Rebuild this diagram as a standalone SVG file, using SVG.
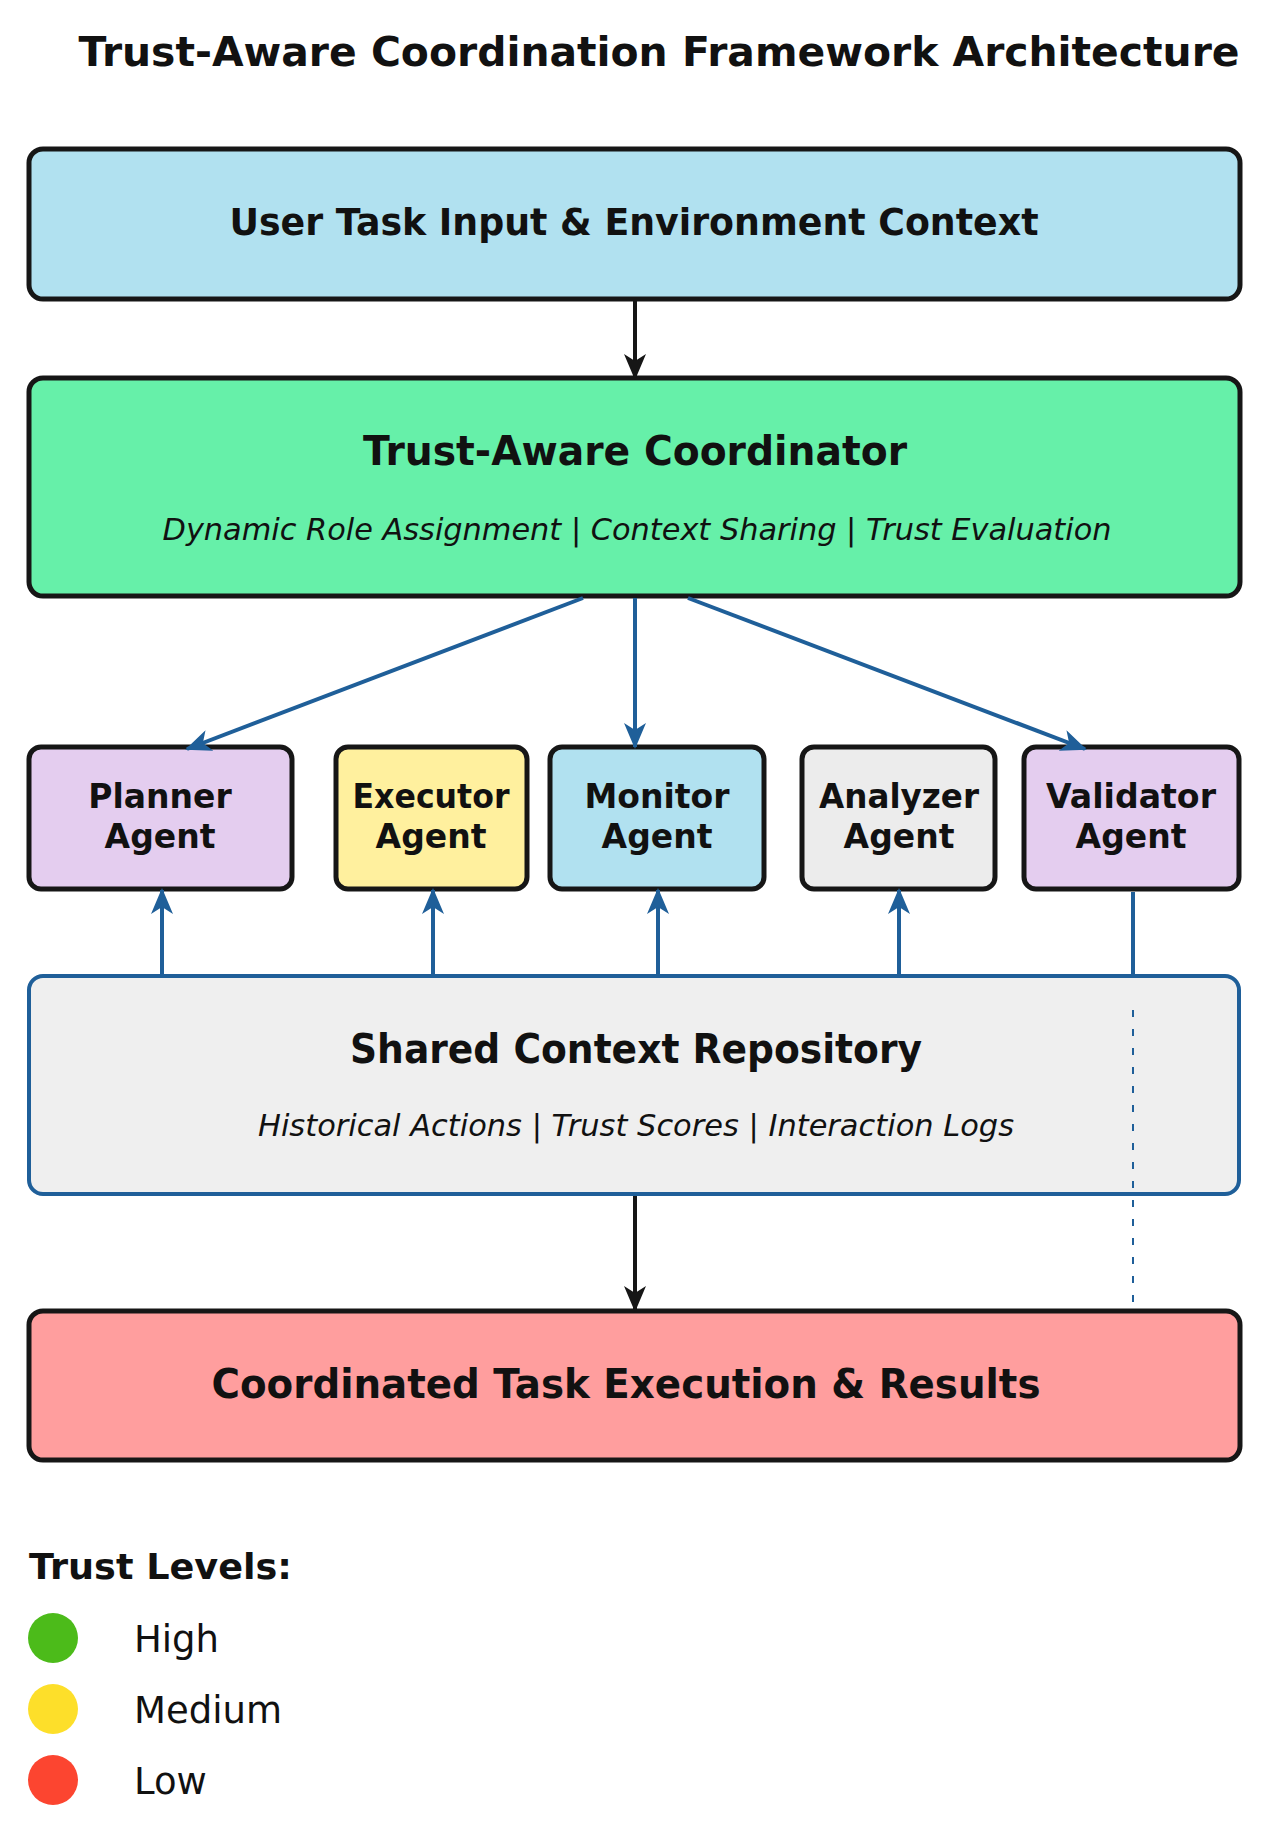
<svg xmlns="http://www.w3.org/2000/svg" width="1272" height="1843" viewBox="0 0 1272 1843">
<style>
text{font-family:"DejaVu Sans","Noto Sans",sans-serif;fill:#111;text-anchor:middle}
.b{font-weight:bold}
.i{font-style:italic;font-size:31px}
.box{stroke:#161616;stroke-width:5}
.ag{font-weight:bold;font-size:33px}
.blue{stroke:#1f5f99;stroke-width:4;fill:none}
.blk{stroke:#161616;stroke-width:4;fill:none}
.lg{font-size:37px;text-anchor:start}
</style>
<defs>
<marker id="ab" markerWidth="26" markerHeight="22" refX="24" refY="11" orient="auto" markerUnits="userSpaceOnUse" viewBox="0 0 26 22"><path d="M0,0 L26,11 L0,22 L7,11 z" fill="#1f5f99"/></marker>
<marker id="ak" markerWidth="26" markerHeight="22" refX="24" refY="11" orient="auto" markerUnits="userSpaceOnUse" viewBox="0 0 26 22"><path d="M0,0 L26,11 L0,22 L7,11 z" fill="#161616"/></marker>
</defs>
<rect width="1272" height="1843" fill="#fff"/>
<text x="659" y="66" class="b" font-size="40" textLength="1161" lengthAdjust="spacingAndGlyphs">Trust-Aware Coordination Framework Architecture</text>
<g id="input"><rect x="29" y="149" width="1211" height="150" rx="14" fill="#b1e1f0" class="box"/>
<text x="634" y="235" class="b" font-size="38" textLength="809" lengthAdjust="spacingAndGlyphs">User Task Input &amp; Environment Context</text></g>
<g id="coordinator"><rect x="29" y="378" width="1211" height="218" rx="14" fill="#66f0a9" class="box"/>
<text x="635" y="465" class="b" font-size="40" textLength="544" lengthAdjust="spacingAndGlyphs">Trust-Aware Coordinator</text>
<text x="637" y="540" class="i" textLength="949" lengthAdjust="spacingAndGlyphs">Dynamic Role Assignment | Context Sharing | Trust Evaluation</text></g>
<g id="planner"><rect x="29" y="747" width="263" height="142" rx="12" fill="#e4cdef" class="box"/>
<text x="160" y="808" class="ag">Planner</text><text x="160" y="848" class="ag">Agent</text></g>
<g id="executor"><rect x="336" y="747" width="191" height="142" rx="12" fill="#fff09e" class="box"/>
<text x="431" y="808" class="ag" textLength="157" lengthAdjust="spacingAndGlyphs">Executor</text><text x="431" y="848" class="ag">Agent</text></g>
<g id="monitor"><rect x="550" y="747" width="214" height="142" rx="12" fill="#b1e1f0" class="box"/>
<text x="657" y="808" class="ag">Monitor</text><text x="657" y="848" class="ag">Agent</text></g>
<g id="analyzer"><rect x="802" y="747" width="193" height="142" rx="12" fill="#ececec" class="box"/>
<text x="899" y="808" class="ag" textLength="160" lengthAdjust="spacingAndGlyphs">Analyzer</text><text x="899" y="848" class="ag">Agent</text></g>
<g id="validator"><rect x="1024" y="747" width="215" height="142" rx="12" fill="#e4cdef" class="box"/>
<text x="1131" y="808" class="ag" textLength="170" lengthAdjust="spacingAndGlyphs">Validator</text><text x="1131" y="848" class="ag">Agent</text></g>
<g id="repository"><rect x="29" y="976" width="1210" height="218" rx="14" fill="#efefef" stroke="#1f5f99" stroke-width="4"/>
<text x="636" y="1063" class="b" font-size="40" textLength="572" lengthAdjust="spacingAndGlyphs">Shared Context Repository</text>
<text x="636" y="1136" class="i" textLength="756" lengthAdjust="spacingAndGlyphs">Historical Actions | Trust Scores | Interaction Logs</text></g>
<g id="result"><rect x="29" y="1311" width="1211" height="149" rx="14" fill="#ff9e9e" class="box"/>
<text x="626" y="1398" class="b" font-size="40" textLength="829" lengthAdjust="spacingAndGlyphs">Coordinated Task Execution &amp; Results</text></g>
<g id="connectors">
<line x1="635" y1="301" x2="635" y2="378" class="blk" marker-end="url(#ak)"/>
<line x1="583" y1="598" x2="187" y2="749" class="blue" marker-end="url(#ab)"/>
<line x1="635" y1="598" x2="635" y2="747" class="blue" marker-end="url(#ab)"/>
<line x1="688" y1="598" x2="1085" y2="749" class="blue" marker-end="url(#ab)"/>
<line x1="162" y1="974" x2="162" y2="890" class="blue" marker-end="url(#ab)"/>
<line x1="433" y1="974" x2="433" y2="890" class="blue" marker-end="url(#ab)"/>
<line x1="658" y1="974" x2="658" y2="890" class="blue" marker-end="url(#ab)"/>
<line x1="899" y1="974" x2="899" y2="890" class="blue" marker-end="url(#ab)"/>
<line x1="1133" y1="892" x2="1133" y2="974" class="blue"/>
<line x1="1133" y1="1010" x2="1133" y2="1306" stroke="#1f5f99" stroke-width="2" stroke-dasharray="7,12"/>
<line x1="635" y1="1196" x2="635" y2="1310" class="blk" marker-end="url(#ak)"/>
</g>
<g id="legend">
<text x="29" y="1579" class="b" font-size="36" style="text-anchor:start" textLength="263" lengthAdjust="spacingAndGlyphs">Trust Levels:</text>
<circle cx="53" cy="1638" r="25" fill="#4cbb1a"/><text x="134" y="1652" class="lg">High</text>
<circle cx="53" cy="1709" r="25" fill="#fddf2a"/><text x="134" y="1723" class="lg">Medium</text>
<circle cx="53" cy="1780" r="25" fill="#fc4530"/><text x="134" y="1794" class="lg">Low</text>
</g>
</svg>
